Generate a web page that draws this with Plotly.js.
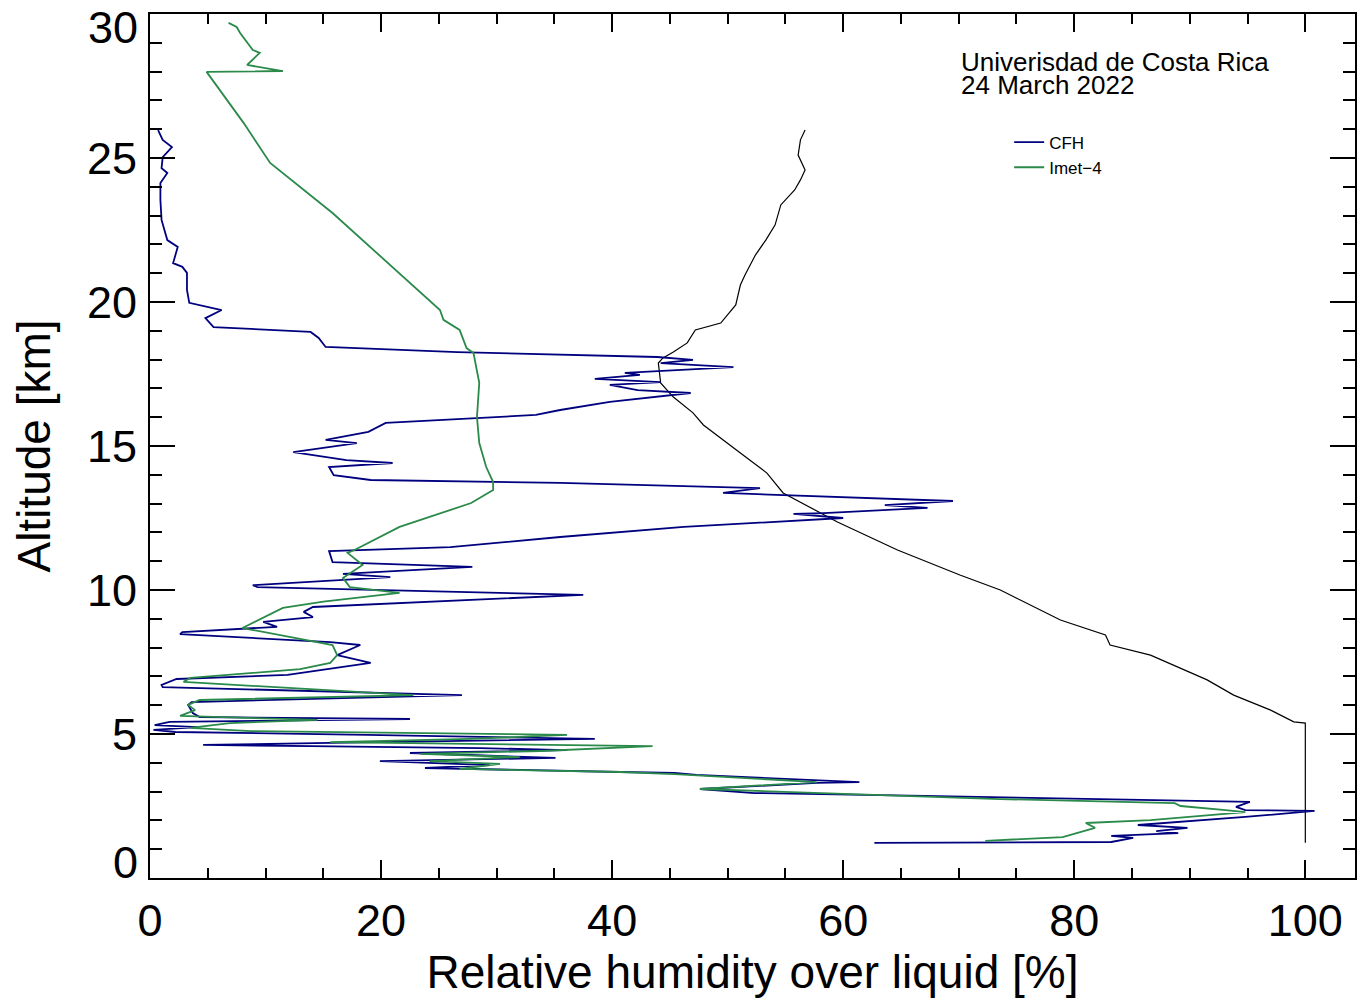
<!DOCTYPE html>
<html>
<head>
<meta charset="utf-8">
<script src="https://cdn.plot.ly/plotly-3.0.1.min.js"></script>
<style>html,body{margin:0;padding:0;background:#fff;}#chart{width:1357px;height:1000px;}</style>
</head>
<body>
<div id="chart"></div>
<script>
// CFH frost-point hygrometer RH over liquid (%) and altitude (km)
const cfhRH = [62.7,83.2,85.1,83.2,89.0,87.1,89.8,85.5,94.8,99.8,100.8,94.8,94.0,95.2,91.7,67.0,52.3,47.6,57.7,61.4,47.3,45.4,40.7,23.8,29.4,19.9,35.1,27.7,22.5,36.1,28.6,13.9,4.6,15.6,38.5,18.8,2.2,0.3,4.1,0.4,1.7,22.5,4.3,3.7,3.3,3.6,27.0,1.1,1.0,2.3,11.9,19.1,16.2,18.2,15.6,2.6,2.8,11.0,9.8,14.1,13.3,14.1,37.5,9.3,8.9,20.8,16.7,27.9,15.8,15.5,26.0,35.5,46.2,60.0,55.7,58.3,67.3,63.6,69.5,49.6,52.8,35.5,19.1,15.9,15.5,21.0,17.0,12.4,17.9,15.2,18.9,20.4,33.4,35.5,39.8,46.8,42.2,39.8,44.2,38.5,42.4,41.1,50.5,44.2,47.0,43.9,26.6,15.2,14.6,13.9,5.5,4.8,6.2,3.4,3.2,3.2,2.8,2.0,2.4,1.5,1.0,0.9,0.9,1.5,1.0,1.1,1.9,1.1,0.7];
const cfhAlt = [1.22,1.25,1.39,1.46,1.56,1.63,1.74,1.84,2.12,2.29,2.33,2.36,2.47,2.64,2.67,2.85,2.95,3.09,3.30,3.33,3.58,3.65,3.68,3.82,3.92,4.06,4.17,4.27,4.34,4.44,4.51,4.58,4.62,4.69,4.83,4.97,5.07,5.14,5.24,5.31,5.42,5.52,5.59,5.73,6.01,6.11,6.35,6.63,6.70,6.91,7.05,7.47,7.74,8.09,8.19,8.47,8.54,8.72,8.89,9.06,9.24,9.41,9.83,10.10,10.17,10.45,10.56,10.80,10.97,11.35,11.49,11.84,12.19,12.50,12.64,12.67,12.85,12.95,13.09,13.37,13.54,13.72,13.82,13.99,14.27,14.41,14.51,14.79,15.10,15.21,15.49,15.80,16.08,16.25,16.53,16.84,16.94,17.12,17.22,17.33,17.47,17.54,17.74,17.88,17.99,18.09,18.26,18.44,18.75,18.96,19.13,19.44,19.72,19.97,20.42,21.01,21.22,21.35,21.91,22.15,22.85,23.54,24.13,24.48,24.65,25.03,25.38,25.63,25.97];

// iMet-4 radiosonde RH over liquid (%) and altitude (km)
const imetRH = [72.3,79.0,81.8,81.0,86.6,94.8,93.1,89.2,88.7,73.6,47.6,57.7,45.4,40.7,26.8,30.3,24.2,32.0,23.4,33.8,43.5,28.6,15.6,27.7,36.1,8.7,3.5,6.9,14.5,2.6,3.9,3.3,4.3,22.8,2.9,3.5,8.0,13.0,15.6,16.2,15.8,13.0,8.0,11.5,15.0,21.6,17.3,16.7,18.4,17.1,17.7,21.6,27.8,29.7,29.7,29.1,28.5,28.3,28.5,28.0,27.4,26.8,25.4,25.1,21.0,15.8,10.4,8.1,4.9,11.5,8.4,9.5,8.9,7.8,7.5,6.8];
const imetAlt = [1.29,1.42,1.74,1.91,2.01,2.29,2.36,2.50,2.60,2.74,3.09,3.33,3.61,3.68,3.79,3.96,4.06,4.20,4.31,4.41,4.58,4.65,4.72,4.83,4.97,5.10,5.21,5.38,5.49,5.63,5.83,6.01,6.18,6.35,6.81,6.95,7.10,7.25,7.47,7.74,8.09,8.30,8.68,9.38,9.60,9.90,10.10,10.42,10.87,11.29,11.39,12.19,13.02,13.47,13.75,14.27,15.10,16.01,17.19,18.23,18.40,19.03,19.38,19.72,21.22,23.09,24.83,26.22,27.99,28.02,28.23,28.65,28.75,29.34,29.55,29.69];

// Ice saturation expressed as RH over liquid (%)
const iceRH = [100,100,99.0,97.0,93.8,91.5,86.6,83.1,82.7,78.8,73.6,70.1,64.7,59.5,54.8,53.4,51.1,49.6,47.9,47.0,45.3,44.2,44.0,44.4,45.3,46.5,47.2,49.4,50.7,51.1,51.5,52.4,53.3,54.1,54.6,55.8,56.3,56.7,56.1,56.3,56.7];
const iceAlt = [1.22,5.38,5.42,5.83,6.35,6.88,7.74,8.09,8.44,8.96,10.00,10.52,11.39,12.36,13.37,14.06,14.76,15.21,15.73,16.15,16.70,17.19,17.88,18.06,18.26,18.58,19.03,19.27,19.90,20.59,20.94,21.63,22.15,22.67,23.37,23.89,24.24,24.58,25.10,25.63,25.97];

const seriesNames = ["CFH", "Imet\u22124"];
const xTitle = "Relative humidity over liquid [%]";
const yTitle = "Altitude [km]";
const noteLines = ["Univerisdad de Costa Rica", "24 March 2022"];
const yTickVals = [0, 5, 10, 15, 20, 25, 30];
const yTickText = ["0", "5", "10", "15", "20", "25", "30"];

const FONT = "Liberation Sans, Arial, Helvetica, sans-serif";
const tickFont = {family: FONT, size: 45, color: "#000"};

const traces = [
  {x: iceRH, y: iceAlt, mode: "lines", line: {color: "#000000", width: 1.2}, showlegend: false, hoverinfo: "skip"},
  {x: cfhRH, y: cfhAlt, mode: "lines", name: seriesNames[0], line: {color: "#00007f", width: 1.8}},
  {x: imetRH, y: imetAlt, mode: "lines", name: seriesNames[1], line: {color: "#2a8a4a", width: 1.8}},
  // empty helper traces so the label-only overlay axes are drawn
  {x: [], y: [], yaxis: "y2", showlegend: false, hoverinfo: "skip"},
  {x: [], y: [], yaxis: "y3", showlegend: false, hoverinfo: "skip"}
];

// middle labels on the main axis; end labels on overlay axes nudged inwards (as in the original)
const midText = yTickText.slice(1, -1);

function labelAxis(v, t, shift) {
  return {
    overlaying: "y", anchor: "x", side: "left",
    range: [0, 30], autorange: false,
    showgrid: false, zeroline: false, showline: false,
    ticks: "", tickmode: "array", tickvals: [v], ticktext: [t],
    tickfont: tickFont, ticklabelstandoff: 11, ticklabelshift: shift,
    ticklabeloverflow: "allow"
  };
}

const layout = {
  width: 1357, height: 1000,
  margin: {l: 150, r: 2, t: 14, b: 122},
  paper_bgcolor: "#ffffff", plot_bgcolor: "#ffffff",
  font: {family: FONT, color: "#000000"},
  showlegend: true,
  legend: {
    x: 0.713, y: 0.872, xanchor: "left", yanchor: "top",
    font: {family: FONT, size: 17, color: "#000"},
    bgcolor: "rgba(0,0,0,0)", borderwidth: 0,
    tracegroupgap: 0, itemwidth: 30
  },
  xaxis: {
    range: [0, 104.3], autorange: false,
    showgrid: false, zeroline: false,
    showline: true, linecolor: "#000", linewidth: 2, mirror: "ticks",
    ticks: "inside", ticklen: 18, tickwidth: 2, tickcolor: "#000",
    dtick: 20, tick0: 0,
    minor: {dtick: 5, tick0: 0, ticks: "inside", ticklen: 10, tickwidth: 2, tickcolor: "#000", showgrid: false},
    tickfont: tickFont,
    ticklabelstandoff: 2,
    ticklabeloverflow: "allow",
    title: {text: xTitle, font: {family: FONT, size: 46, color: "#000"}, standoff: 2}
  },
  yaxis: {
    range: [0, 30], autorange: false,
    showgrid: false, zeroline: false,
    showline: true, linecolor: "#000", linewidth: 2, mirror: "ticks",
    ticks: "inside", ticklen: 25, tickwidth: 2, tickcolor: "#000",
    tickmode: "array", tickvals: yTickVals, ticktext: ["", ...midText, ""],
    minor: {tickmode: "linear", dtick: 1, tick0: 0, ticks: "inside", ticklen: 12, tickwidth: 2, tickcolor: "#000", showgrid: false},
    tickfont: tickFont,
    ticklabelstandoff: 2,
    ticklabeloverflow: "allow",
    title: {text: yTitle, font: {family: FONT, size: 46, color: "#000"}, standoff: 22}
  },
  yaxis2: labelAxis(yTickVals[yTickVals.length - 1], yTickText[yTickText.length - 1], 13),
  yaxis3: labelAxis(yTickVals[0], yTickText[0], -16),
  annotations: [
    {text: noteLines[0], xref: "paper", yref: "paper", x: 0.671, y: 0.944, xanchor: "left", yanchor: "middle", showarrow: false, font: {family: FONT, size: 26, color: "#000"}},
    {text: noteLines[1], xref: "paper", yref: "paper", x: 0.671, y: 0.918, xanchor: "left", yanchor: "middle", showarrow: false, font: {family: FONT, size: 26, color: "#000"}}
  ]
};

Plotly.newPlot("chart", traces, layout, {displayModeBar: false, staticPlot: true});
</script>
</body>
</html>
